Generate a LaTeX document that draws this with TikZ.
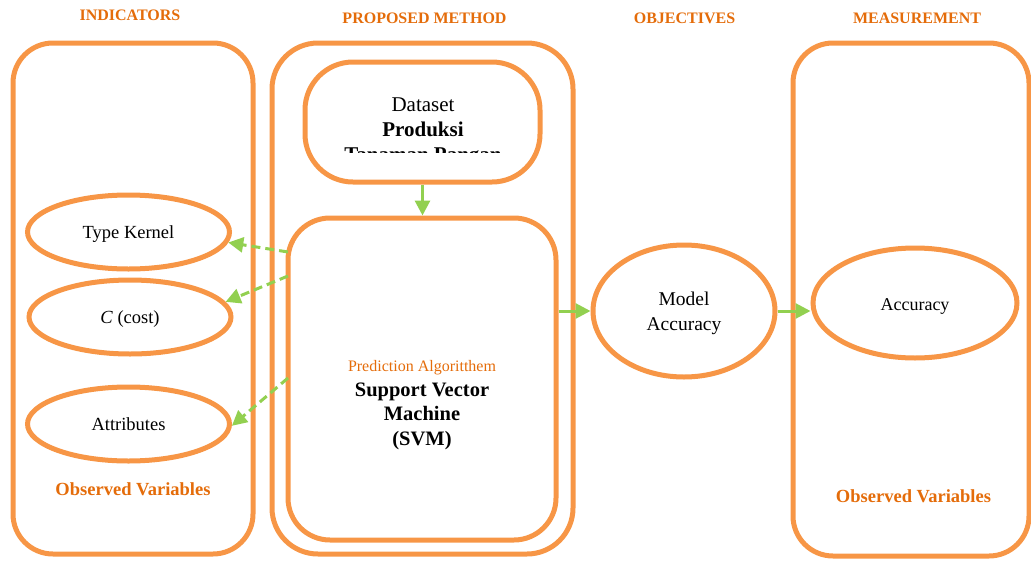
\documentclass[tikz,border=0pt]{standalone}
\usepackage{fontspec}
\setmainfont{Liberation Serif}
\usetikzlibrary{shapes.geometric,arrows.meta}
\definecolor{boxor}{HTML}{F79646}
\definecolor{txtor}{HTML}{E46C0A}
\definecolor{arrgr}{HTML}{92D050}
\newcommand{\fsz}[1]{\fontsize{#1}{#1}\selectfont}
\tikzset{
  frame/.style={draw=boxor, line width=5pt, rectangle, inner sep=0pt},
  oval/.style={draw=boxor, line width=5pt, ellipse, inner sep=0pt, fill=white},
  lbl/.style={anchor=base, inner sep=0pt, outer sep=0pt},
  head/.style={lbl, text=txtor, font=\fsz{16}\bfseries},
  obs/.style={lbl, text=txtor, font=\fsz{18.5}\bfseries},
  flow/.style={draw=arrgr, line width=3pt, -{Triangle[length=15pt,width=15pt]}},
  dflow/.style={flow, dash pattern=on 9pt off 5pt}
}
\begin{document}
\begin{tikzpicture}[x=1pt,y=-1pt]
\useasboundingbox (0,0) rectangle (1031,560);
% headers
\node[head] (h1) at (130,20.7) {INDICATORS};
\node[head] (h2) at (424.5,23.3) {PROPOSED METHOD};
\node[head] (h3) at (684.5,23.3) {OBJECTIVES};
\node[head] (h4) at (917,23.3) {MEASUREMENT};
% big frames
\node[frame, rounded corners=40pt, minimum width=240pt, minimum height=511pt] (ind) at (133,298.5) {};
\node[frame, rounded corners=46pt, minimum width=301pt, minimum height=511pt] (pm) at (422.5,298.5) {};
\node[frame, rounded corners=40pt, minimum width=236pt, minimum height=513pt] (meas) at (911,299.5) {};
% inner boxes
\node[frame, rounded corners=48pt, minimum width=235pt, minimum height=120pt] (ds) at (422.5,122) {};
\node[frame, rounded corners=42pt, minimum width=268pt, minimum height=322pt] (svm) at (422,379) {};
% dataset text (clipped)
\begin{scope}
\clip (310,66) rectangle (536,152);
\node[lbl, font=\fsz{21}] (dt1) at (423,111) {Dataset};
\node[lbl, font=\fsz{21}\bfseries] (dt2) at (423,136) {Produksi};
\node[lbl, font=\fsz{21}\bfseries] (dt3) at (423,161) {Tanaman Pangan};
\end{scope}
% svm text
\node[lbl, text=txtor, font=\fsz{16}] (sv0) at (422,371.7) {Prediction Algoritthem};
\node[lbl, font=\fsz{20.5}\bfseries] (sv1) at (422,396) {Support Vector};
\node[lbl, font=\fsz{20.5}\bfseries] (sv2) at (422,420.5) {Machine};
\node[lbl, font=\fsz{20.5}\bfseries] (sv3) at (422,445) {(SVM)};
% ellipses
\node[oval, minimum width=202pt, minimum height=74pt] (tk) at (128.5,232) {};
\node[oval, minimum width=202pt, minimum height=74pt] (cc) at (130,317) {};
\node[oval, minimum width=202pt, minimum height=74pt] (at) at (128.5,424) {};
\node[oval, minimum width=182pt, minimum height=132pt] (ma) at (684,311) {};
\node[oval, minimum width=204pt, minimum height=110pt] (acc) at (915,303) {};
\node[lbl, font=\fsz{18.5}] (tkt) at (128.5,238.3) {Type Kernel};
\node[lbl, font=\fsz{18.5}] (cct) at (130,323) {\textit{C} (cost)};
\node[lbl, font=\fsz{18.5}] (att) at (128.5,430) {Attributes};
\node[lbl, font=\fsz{19.5}] (ma1) at (684,305.7) {Model};
\node[lbl, font=\fsz{19.5}] (ma2) at (684,330.7) {Accuracy};
\node[lbl, font=\fsz{18}] (acct) at (915,310) {Accuracy};
% observed variables
\node[obs] (ov1) at (133,495) {Observed Variables};
\node[obs] (ov2) at (913.5,502.7) {Observed Variables};
% connectors
\coordinate (s1) at (288,252);
\coordinate (s2) at (288,276);
\coordinate (s3) at (288,378);
\draw[flow] (ds.south) -- (ds.south |- svm.north);
\draw[flow] (svm.east |- ma.west) -- (ma.west);
\draw[flow] (ma.east) -- (ma.east -| acc.west);
\draw[dflow] (s1) -- (tk.-6);
\draw[dflow] (s2) -- (cc.9);
\draw[dflow] (s3) -- (at.-1);
\end{tikzpicture}
\end{document}
